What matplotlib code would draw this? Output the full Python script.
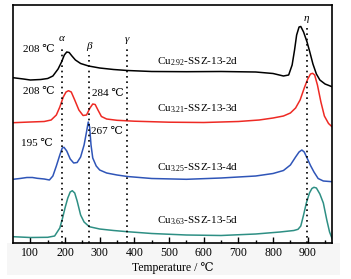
import matplotlib
matplotlib.use("Agg")
import matplotlib.pyplot as plt
from matplotlib.patches import Rectangle

plt.rcParams['font.family'] = ['Liberation Serif', 'DejaVu Serif']
plt.rcParams['mathtext.fontset'] = 'custom'
plt.rcParams['mathtext.rm'] = 'Liberation Serif'
plt.rcParams['mathtext.it'] = 'Liberation Serif:italic'

# ---- data (temperature in °C, TCD signal in arbitrary units, stacked) ----
t_2d = [50, 80, 100, 130, 150, 165, 180, 190, 198, 205, 212, 220, 230, 245, 268, 300, 340, 380,
        450, 550, 650, 750, 800, 830, 845, 855, 862, 868, 875, 880, 888, 898, 906, 915, 925, 935, 950, 970]
s_2d = [165.3, 164, 163, 163.5, 164.5, 167, 174, 181, 188, 191, 190.5, 187, 183, 179.5, 177, 175, 173.5, 172.5,
        171.5, 171.3, 171.5, 171, 169.5, 167, 168, 178, 193, 208, 216, 216.5, 211, 201, 191, 179, 169, 163, 159, 156.3]

t_3d = [50, 100, 140, 160, 175, 185, 195, 203, 210, 218, 228, 240, 252, 262, 272, 280, 287, 295, 305, 320,
        350, 400, 500, 600, 700, 760, 800, 830, 850, 865, 878, 890, 900, 908, 914, 920, 928, 938, 948, 960, 970]
s_3d = [120.3, 121, 121.5, 123, 128, 136, 146, 151, 152.3, 151, 143, 133, 127.5, 128, 135, 139, 138.5, 133, 126.5, 124,
        122.7, 121.8, 120.8, 120.5, 121.5, 123, 125, 127, 130, 135, 143, 155, 164, 169, 169.7, 168, 158, 141, 127, 119.5, 116.3]

t_4d = [50, 70, 90, 106, 120, 140, 155, 165, 175, 185, 192, 197, 205, 215, 225, 235, 245, 255, 262, 267, 271, 275,
        280, 290, 300, 320, 350, 380, 450, 550, 650, 750, 800, 830, 850, 865, 875, 883, 890, 898, 908, 918, 930, 945, 970]
s_4d = [63.7, 64.5, 65.5, 65.5, 64.7, 64, 63, 67, 77, 88, 95, 95.7, 92, 84, 80, 80.5, 86, 98, 111, 121, 116, 98,
        85, 77, 73, 70, 68, 66.5, 64.5, 63.7, 65, 67, 69.5, 72.5, 78, 86, 91, 93, 91, 85, 77.5, 71, 64.5, 62, 61.3]

t_5d = [50, 100, 150, 170, 185, 193, 200, 208, 215, 221, 228, 235, 245, 255, 270, 300, 340, 380, 450, 550, 650,
        750, 820, 860, 872, 880, 888, 896, 905, 912, 918, 925, 935, 945, 955, 963, 970]
s_5d = [6.3, 5.5, 5.7, 7, 15, 25, 35, 45, 51, 52.3, 50, 42, 28, 21, 16.3, 14, 12.5, 11.3, 9.5, 8, 7.5,
        9, 11, 12.5, 13.7, 17, 28, 40, 50, 54.5, 55.7, 55, 49, 40, 23, 11, 4.7]

series_labels = ["Cu$_{2.92}$-SSZ-13-2d", "Cu$_{3.21}$-SSZ-13-3d",
                 "Cu$_{3.25}$-SSZ-13-4d", "Cu$_{3.63}$-SSZ-13-5d"]
series_colors = ["#000000", "#ee2a24", "#2f55b8", "#2e8f84"]

ref_names = ["α", "β", "γ", "η"]
ref_temps = [190, 268, 380, 897]
ref_tops = [196, 188, 195, 216]

peak_texts = ["208 ℃", "208 ℃", "284 ℃", "267 ℃", "195 ℃"]
peak_x = [126, 126, 323, 321, 119]
peak_y = [193, 151, 149, 112, 100]

xticks = [100, 200, 300, 400, 500, 600, 700, 800, 900]

# ---- figure ----
fig = plt.figure(figsize=(3.51, 2.79), dpi=100)
fig.patches.append(Rectangle((7 / 351, 4 / 279), 333 / 351, 32 / 279, transform=fig.transFigure,
                             facecolor="#f6f6f6", edgecolor="none", zorder=-10))
ax = fig.add_axes([13 / 351, 1 - 243 / 279, 319 / 351, 238 / 279])
ax.set_facecolor("white")

ts = [t_2d, t_3d, t_4d, t_5d]
ss = [s_2d, s_3d, s_4d, s_5d]
for t, s, c in zip(ts, ss, series_colors):
    ax.plot(t, s, color=c, lw=1.1, solid_joinstyle='round')

for name, x, top in zip(ref_names, ref_temps, ref_tops):
    ax.plot([x, x], [0, top], color="black", lw=1.2, linestyle=(0, (1, 2.2)))
    ax.text(x, top + 4, name, ha="center", va="bottom", fontsize=8, style="italic")

for txt, x, y in zip(peak_texts, peak_x, peak_y):
    ax.text(x, y, txt, ha="center", va="center", fontsize=8)

label_y = [181, 134, 75, 22]
for lab, y in zip(series_labels, label_y):
    ax.text(464, y, lab, ha="left", va="center", fontsize=8)

ax.set_xlim(50, 970)
ax.set_ylim(0, 238)
ax.set_xticks(xticks)
ax.set_xticks([150, 250, 350, 450, 550, 650, 750, 850, 950], minor=True)
ax.set_yticks([])
ax.tick_params(axis="x", which="major", direction="in", length=4, width=1, labelsize=8.5, pad=3)
ax.tick_params(axis="x", which="minor", direction="in", length=2.5, width=1)
for sp in ax.spines.values():
    sp.set_linewidth(1.2)
ax.set_xlabel("Temperature / ℃", fontsize=8.5, labelpad=2)

fig.savefig("out.png", dpi=100)
